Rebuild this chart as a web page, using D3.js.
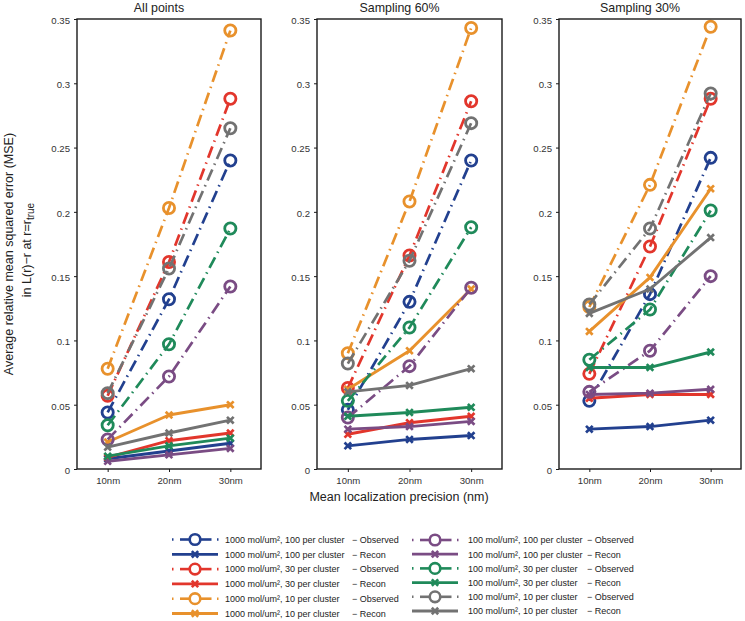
<!DOCTYPE html>
<html>
<head>
<meta charset="utf-8">
<script src="https://cdn.jsdelivr.net/npm/d3@7/dist/d3.min.js"></script>
<style>
  html, body { margin: 0; padding: 0; background: #fff; }
  svg { display: block; font-family: "Liberation Sans", Arial, sans-serif; }
</style>
</head>
<body>
<svg id="chart" width="745" height="621"></svg>
<script>
// ---------------- DATA ----------------
const categories = ["10nm", "20nm", "30nm"];
const panelTitles = ["All points", "Sampling 60%", "Sampling 30%"];
const yTicks = [0, 0.05, 0.1, 0.15, 0.2, 0.25, 0.3, 0.35];
const yTickLabels = ["0", "0.05", "0.1", "0.15", "0.2", "0.25", "0.3", "0.35"];

// each array: [All points], [Sampling 60%], [Sampling 30%] ; values at 10nm, 20nm, 30nm
const obs_1000_100   = [[0.044, 0.132, 0.240], [0.046, 0.130, 0.240], [0.053, 0.136, 0.242]];
const recon_1000_100 = [[0.008, 0.014, 0.020], [0.018, 0.023, 0.026], [0.031, 0.033, 0.038]];
const obs_1000_30    = [[0.057, 0.161, 0.288], [0.063, 0.166, 0.286], [0.074, 0.173, 0.288]];
const recon_1000_30  = [[0.009, 0.022, 0.028], [0.027, 0.036, 0.041], [0.055, 0.058, 0.058]];
const obs_1000_10    = [[0.078, 0.203, 0.341], [0.090, 0.208, 0.343], [0.126, 0.221, 0.344]];
const recon_1000_10  = [[0.021, 0.042, 0.050], [0.062, 0.092, 0.140], [0.107, 0.149, 0.218]];
const obs_100_100    = [[0.023, 0.072, 0.142], [0.040, 0.080, 0.141], [0.060, 0.092, 0.150]];
const recon_100_100  = [[0.006, 0.011, 0.016], [0.031, 0.033, 0.037], [0.058, 0.059, 0.062]];
const obs_100_30     = [[0.034, 0.097, 0.187], [0.053, 0.110, 0.188], [0.085, 0.124, 0.201]];
const recon_100_30   = [[0.010, 0.018, 0.024], [0.041, 0.044, 0.048], [0.079, 0.079, 0.091]];
const obs_100_10     = [[0.059, 0.156, 0.265], [0.082, 0.162, 0.269], [0.128, 0.187, 0.292]];
const recon_100_10   = [[0.017, 0.028, 0.038], [0.060, 0.065, 0.078], [0.121, 0.140, 0.180]];

const seriesLabels = [
  ["1000 mol/um², 100 per cluster", "− Observed"],
  ["1000 mol/um², 100 per cluster", "− Recon"],
  ["1000 mol/um², 30 per cluster", "− Observed"],
  ["1000 mol/um², 30 per cluster", "− Recon"],
  ["1000 mol/um², 10 per cluster", "− Observed"],
  ["1000 mol/um², 10 per cluster", "− Recon"],
  ["100 mol/um², 100 per cluster", "− Observed"],
  ["100 mol/um², 100 per cluster", "− Recon"],
  ["100 mol/um², 30 per cluster", "− Observed"],
  ["100 mol/um², 30 per cluster", "− Recon"],
  ["100 mol/um², 10 per cluster", "− Observed"],
  ["100 mol/um², 10 per cluster", "− Recon"]
];
const seriesValues = [obs_1000_100, recon_1000_100, obs_1000_30, recon_1000_30, obs_1000_10, recon_1000_10,
                      obs_100_100, recon_100_100, obs_100_30, recon_100_30, obs_100_10, recon_100_10];
const seriesKinds = ["obs", "recon", "obs", "recon", "obs", "recon", "obs", "recon", "obs", "recon", "obs", "recon"];
const seriesColors = ["#22408f", "#22408f", "#e2362c", "#e2362c", "#e8912c", "#e8912c",
                      "#7a4c84", "#7a4c84", "#1f8a5a", "#1f8a5a", "#727272", "#727272"];

// ---------------- LAYOUT ----------------
const svg = d3.select("#chart");
const panelX = [[77, 261], [317, 502], [559, 741]];
const plotTop = 19, plotBottom = 469;
const y = d3.scaleLinear().domain([0, 0.35]).range([plotBottom, plotTop]);
const DASH = "12,5,1.5,5";
const font = "Liberation Sans, Arial, sans-serif";

function drawX(g, cx, cy, s, color) {
  g.append("path")
    .attr("d", `M${cx - s},${cy - s}L${cx + s},${cy + s}M${cx - s},${cy + s}L${cx + s},${cy - s}`)
    .attr("stroke", color).attr("stroke-width", 2.7).attr("fill", "none");
}

panelTitles.forEach((title, p) => {
  const [x0, x1] = panelX[p];
  const x = d3.scaleLinear().domain([0.5, 3.5]).range([x0, x1]);
  const g = svg.append("g");

  // data
  seriesValues.forEach((vals, s) => {
    const data = vals[p].map((v, i) => ({ i: i + 1, v }));
    const color = seriesColors[s];
    const line = d3.line().x(d => x(d.i)).y(d => y(d.v));
    if (seriesKinds[s] === "obs") {
      g.append("path").datum(data).attr("d", line)
        .attr("fill", "none").attr("stroke", color).attr("stroke-width", 2.7)
        .attr("stroke-dasharray", DASH);
      g.selectAll(null).data(data).enter().append("circle")
        .attr("cx", d => x(d.i)).attr("cy", d => y(d.v)).attr("r", 5.6)
        .attr("fill", "none").attr("stroke", color).attr("stroke-width", 2.8);
    } else {
      g.append("path").datum(data).attr("d", line)
        .attr("fill", "none").attr("stroke", color).attr("stroke-width", 2.9)
        .attr("stroke-linejoin", "round");
      data.forEach(d => drawX(g, x(d.i), y(d.v), 3.3, color));
    }
  });

  // box
  g.append("rect").attr("x", x0).attr("y", plotTop).attr("width", x1 - x0).attr("height", plotBottom - plotTop)
    .attr("fill", "none").attr("stroke", "#1a1a1a").attr("stroke-width", 1.4);

  // y axis
  const yAxis = d3.axisLeft(y).tickValues(yTicks).tickFormat((d, i) => yTickLabels[i]).tickSize(3).tickPadding(4);
  const ya = g.append("g").attr("transform", `translate(${x0},0)`).call(yAxis);
  ya.select(".domain").remove();
  ya.selectAll("line").attr("stroke", "#1a1a1a");
  ya.selectAll("text").attr("font-size", 9.6).attr("font-family", font).attr("fill", "#333").attr("dy", "0.45em");

  // x axis
  const xAxis = d3.axisBottom(x).tickValues([1, 2, 3]).tickFormat((d, i) => categories[i]).tickSize(3).tickPadding(5);
  const xa = g.append("g").attr("transform", `translate(0,${plotBottom})`).call(xAxis);
  xa.select(".domain").remove();
  xa.selectAll("line").attr("stroke", "#1a1a1a");
  xa.selectAll("text").attr("font-size", 9.6).attr("font-family", font).attr("fill", "#333");

  // title
  g.append("text").attr("x", (x0 + x1) / 2 - 10).attr("y", 11.5).attr("text-anchor", "middle")
    .attr("font-size", 12.4).attr("fill", "#222").text(title);
});

// axis labels
svg.append("text").attr("x", 399).attr("y", 501).attr("text-anchor", "middle")
  .attr("font-size", 12.5).attr("fill", "#222").text("Mean localization precision (nm)");

svg.append("text").attr("transform", "translate(13,254) rotate(-90)").attr("text-anchor", "middle")
  .attr("font-size", 12.5).attr("fill", "#222").text("Average relative mean squared error (MSE)");
const yl2 = svg.append("text").attr("transform", "translate(30.5,250) rotate(-90)").attr("text-anchor", "middle")
  .attr("font-size", 12.5).attr("fill", "#222");
yl2.append("tspan").text("in L(r)−r at r=r");
yl2.append("tspan").attr("font-size", 10).attr("dy", 3).text("true");

// ---------------- LEGEND ----------------
const legendCols = [
  { x0: 172, textX: 225, partX: 352, y0: 539.5, step: 14.8 },
  { x0: 412, textX: 468, partX: 587, y0: 540, step: 14.2 }
];
const lg = svg.append("g");
seriesLabels.forEach((lab, s) => {
  const col = legendCols[Math.floor(s / 6)];
  const row = s % 6;
  const cy = col.y0 + row * col.step;
  const color = seriesColors[s];
  const cx = col.x0 + 23;
  if (seriesKinds[s] === "obs") {
    [[col.x0, col.x0 + 1.5], [col.x0 + 8, col.x0 + 18.5], [col.x0 + 27.5, col.x0 + 39.5], [col.x0 + 45, col.x0 + 46.5]]
      .forEach(([a, b]) => lg.append("line").attr("x1", a).attr("x2", b).attr("y1", cy).attr("y2", cy)
        .attr("stroke", color).attr("stroke-width", 2.6));
    lg.append("circle").attr("cx", cx).attr("cy", cy).attr("r", 5.3)
      .attr("fill", "none").attr("stroke", color).attr("stroke-width", 2.6);
  } else {
    lg.append("line").attr("x1", col.x0).attr("x2", col.x0 + 46).attr("y1", cy).attr("y2", cy)
      .attr("stroke", color).attr("stroke-width", 2.8);
    drawX(lg, cx, cy, 3.2, color);
  }
  lg.append("text").attr("x", col.textX).attr("y", cy + 3.3).attr("font-size", 9).attr("fill", "#222").text(lab[0]);
  lg.append("text").attr("x", col.partX).attr("y", cy + 3.3).attr("font-size", 9).attr("fill", "#222").text(lab[1]);
});
</script>
</body>
</html>
